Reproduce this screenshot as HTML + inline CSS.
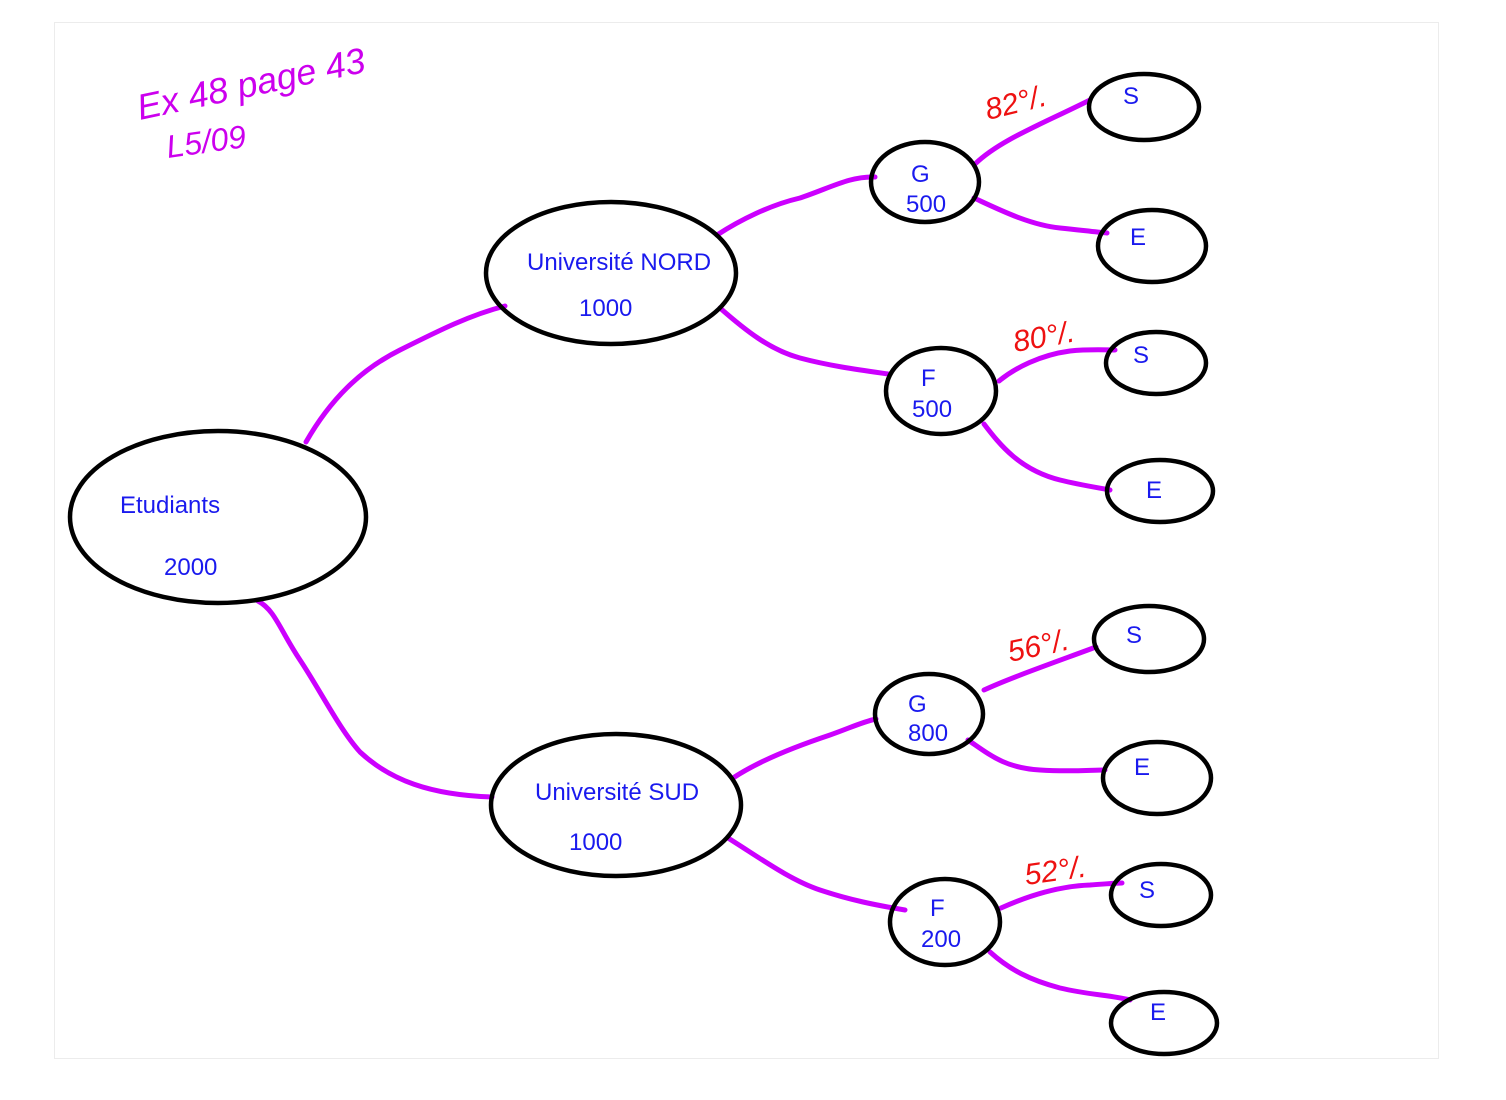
<!DOCTYPE html>
<html><head><meta charset="utf-8"><style>
html,body{margin:0;padding:0;background:#fff;}
svg{display:block;}
text{font-family:"Liberation Sans",Arial,sans-serif;}
</style></head><body>
<svg width="1506" height="1100" viewBox="0 0 1506 1100" xmlns="http://www.w3.org/2000/svg">
<rect x="54.5" y="22.5" width="1384" height="1036" fill="#fff" stroke="#ececec" stroke-width="1"/>
<g fill="none" stroke="#cc00ff" stroke-width="5" stroke-linecap="round">
<path d="M306,442 C330,400 360,370 400,350 C440,330 470,315 505,306"/>
<path d="M258,601 C275,610 280,630 300,660 C320,690 340,730 360,752 C390,780 430,795 492,797"/>
<path d="M717,235 C740,220 770,205 800,198 C830,188 850,176 875,177"/>
<path d="M720,308 C745,330 770,350 800,358 C830,366 860,370 888,374"/>
<path d="M733,778 C760,760 800,745 830,735 C850,728 862,722 876,719"/>
<path d="M728,838 C760,858 790,880 820,890 C850,900 875,905 905,910"/>
<path d="M975,164 C1000,140 1040,125 1090,100"/>
<path d="M974,198 C1000,210 1030,225 1060,228 C1080,230 1095,232 1107,233"/>
<path d="M999,381 C1015,368 1040,355 1070,351 C1090,349 1105,350 1115,350"/>
<path d="M984,424 C1000,445 1020,470 1060,480 C1080,485 1100,488 1110,490"/>
<path d="M984,690 C1010,678 1050,664 1096,647"/>
<path d="M968,740 C990,755 1005,768 1040,770 C1070,772 1090,770 1105,770"/>
<path d="M1001,908 C1030,895 1060,886 1090,885 C1105,884 1115,883 1122,883"/>
<path d="M990,952 C1010,970 1030,980 1060,988 C1090,995 1110,995 1130,1000"/>
</g>
<g fill="none" stroke="#000" stroke-width="4.5">
<ellipse cx="218" cy="517" rx="148" ry="86"/>
<ellipse cx="611" cy="273" rx="125" ry="71"/>
<ellipse cx="616" cy="805" rx="125" ry="71"/>
<ellipse cx="925" cy="182" rx="54" ry="40"/>
<ellipse cx="941" cy="391" rx="55" ry="43"/>
<ellipse cx="929" cy="714" rx="54" ry="40"/>
<ellipse cx="945" cy="922" rx="55" ry="43"/>
<ellipse cx="1144" cy="107" rx="55" ry="33"/>
<ellipse cx="1152" cy="246" rx="54" ry="36"/>
<ellipse cx="1156" cy="363" rx="50" ry="31"/>
<ellipse cx="1160" cy="491" rx="53" ry="31"/>
<ellipse cx="1149" cy="639" rx="55" ry="33"/>
<ellipse cx="1157" cy="778" rx="54" ry="36"/>
<ellipse cx="1161" cy="895" rx="50" ry="31"/>
<ellipse cx="1164" cy="1023" rx="53" ry="31"/>
</g>
<g fill="#1a1aee" font-size="24">
<text x="120" y="513">Etudiants</text>
<text x="164" y="575">2000</text>
<text x="527" y="270">Université NORD</text>
<text x="579" y="316">1000</text>
<text x="535" y="800">Université SUD</text>
<text x="569" y="850">1000</text>
<text x="911" y="182">G</text>
<text x="906" y="212">500</text>
<text x="921" y="386">F</text>
<text x="912" y="417">500</text>
<text x="908" y="712">G</text>
<text x="908" y="741">800</text>
<text x="930" y="916">F</text>
<text x="921" y="947">200</text>
<text x="1123" y="104">S</text>
<text x="1130" y="245">E</text>
<text x="1133" y="363">S</text>
<text x="1146" y="498">E</text>
<text x="1126" y="643">S</text>
<text x="1134" y="775">E</text>
<text x="1139" y="898">S</text>
<text x="1150" y="1020">E</text>
</g>
<g fill="#ee1111" font-size="30" font-style="italic">
<text x="988" y="120" transform="rotate(-14 988 120)">82°/.</text>
<text x="1015" y="352" transform="rotate(-10 1015 352)">80°/.</text>
<text x="1010" y="662" transform="rotate(-12 1010 662)">56°/.</text>
<text x="1026" y="885" transform="rotate(-8 1026 885)">52°/.</text>
</g>
<g fill="#cc00ee" font-size="36" font-style="italic">
<text x="140" y="120" transform="rotate(-12 140 120)">Ex 48 page 43</text>
<text x="168" y="158" transform="rotate(-8 168 158)" font-size="32">L5/09</text>
</g>
</svg>
</body></html>
